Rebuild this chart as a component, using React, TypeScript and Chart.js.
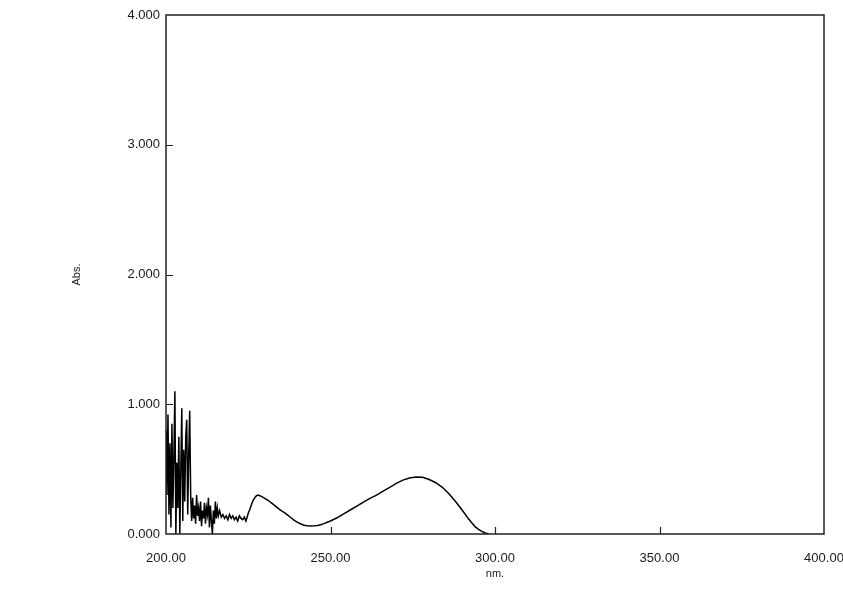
import React, { useEffect, useRef } from "react";
import { Chart, registerables } from "chart.js";

Chart.register(...registerables);

const wavelengths: number[] = [
  200.0, 200.3, 200.6, 200.9, 201.2, 201.5, 201.8, 202.1, 202.4, 202.7,
  203.0, 203.3, 203.6, 203.9, 204.2, 204.5, 204.8, 205.1, 205.4, 205.7,
  206.0, 206.3, 206.6, 206.9, 207.2, 207.5, 207.8,
  208.1, 208.4, 208.7, 209.0, 209.3, 209.6, 209.9, 210.2, 210.5, 210.8,
  211.1, 211.4, 211.7, 212.0, 212.3, 212.6, 212.9, 213.2, 213.5, 213.8,
  214.1, 214.4, 214.7, 215.0, 215.3, 215.6, 215.9, 216.3, 216.8, 217.3,
  217.8, 218.3, 218.8, 219.3, 219.8, 220.3, 220.8, 221.3, 221.8, 222.3,
  222.8, 223.3, 223.8, 224.3,
  225.0, 225.5, 226.0, 226.5, 227.0, 227.5, 228.0, 228.5, 229.0, 230.0,
  231.0, 232.0, 233.0, 234.0, 235.0, 236.0, 237.0, 238.0, 239.0, 240.0,
  241.0, 242.0, 243.0, 244.0, 245.0, 246.0, 247.0, 248.0, 249.0, 250.0,
  252.0, 254.0, 256.0, 258.0, 260.0, 262.0, 264.0, 266.0, 268.0, 270.0,
  272.0, 274.0, 276.0, 278.0, 280.0, 282.0, 284.0, 286.0, 288.0, 290.0,
  292.0, 294.0, 295.0, 296.0, 297.0, 298.0,
];

const absorbance: number[] = [
  0.80, 0.30, 0.92, 0.15, 0.70, 0.05, 0.85, 0.20, 0.60, 1.10,
  0.00, 0.55, 0.20, 0.75, 0.00, 0.50, 0.97, 0.10, 0.65, 0.25,
  0.75, 0.88, 0.15, 0.60, 0.95, 0.30, 0.10,
  0.28, 0.12, 0.22, 0.08, 0.30, 0.14, 0.20, 0.10, 0.25, 0.06,
  0.18, 0.12, 0.24, 0.08, 0.20, 0.15, 0.28, 0.05, 0.22, 0.10,
  0.00, 0.18, 0.08, 0.25, 0.12, 0.20, 0.14, 0.18, 0.13, 0.15,
  0.12, 0.14, 0.11, 0.15, 0.12, 0.14, 0.11, 0.13, 0.10, 0.14,
  0.12, 0.11, 0.13, 0.10,
  0.16, 0.19, 0.23, 0.26, 0.28, 0.295, 0.30, 0.295, 0.29, 0.275,
  0.26, 0.24, 0.22, 0.20, 0.18, 0.165, 0.145, 0.125, 0.105, 0.09,
  0.077, 0.068, 0.064, 0.062, 0.063, 0.066, 0.072, 0.08, 0.09, 0.10,
  0.125, 0.155, 0.185, 0.215, 0.245, 0.275, 0.30, 0.33, 0.36, 0.39,
  0.415, 0.432, 0.44, 0.437, 0.42, 0.395, 0.36, 0.31, 0.25, 0.185,
  0.115, 0.055, 0.035, 0.02, 0.008, 0.0,
];

const xTickValues: number[] = [200, 250, 300, 350, 400];
const yTickValues: number[] = [0, 1, 2, 3, 4];
const xTitle = "nm.";
const yTitle = "Abs.";

const FONT = "'Liberation Sans', Arial, sans-serif";
const TEXT_COLOR = "#1a1a1a";

const framePlugin = {
  id: "framePlugin",
  afterDatasetsDraw(chart: any) {
    const { ctx, chartArea } = chart;
    const { left, right, top, bottom } = chartArea;
    ctx.save();
    ctx.strokeStyle = "#222";
    ctx.lineWidth = 1.5;
    ctx.strokeRect(left, top, right - left, bottom - top);
    ctx.lineWidth = 1.2;
    const xs = chart.scales.x;
    const ys = chart.scales.y;
    ctx.beginPath();
    xTickValues.forEach((v) => {
      if (v === xs.min || v === xs.max) return;
      const px = Math.round(xs.getPixelForValue(v)) + 0.5;
      ctx.moveTo(px, bottom);
      ctx.lineTo(px, bottom - 7);
    });
    yTickValues.forEach((v) => {
      if (v === ys.min || v === ys.max) return;
      const py = Math.round(ys.getPixelForValue(v)) + 0.5;
      ctx.moveTo(left, py);
      ctx.lineTo(left + 7, py);
    });
    ctx.stroke();
    // axis titles
    ctx.fillStyle = TEXT_COLOR;
    ctx.font = `11px ${FONT}`;
    ctx.textAlign = "center";
    ctx.textBaseline = "middle";
    ctx.fillText(xTitle, (left + right) / 2, bottom + 40);
    ctx.translate(left - 89, (top + bottom) / 2);
    ctx.rotate(-Math.PI / 2);
    ctx.fillText(yTitle, 0, 0);
    ctx.restore();
  },
};

export default function App() {
  const canvasRef = useRef<HTMLCanvasElement | null>(null);

  useEffect(() => {
    const canvas = canvasRef.current;
    if (!canvas) return;
    const points = wavelengths.map((w, i) => ({ x: w, y: absorbance[i] }));
    const chart = new Chart(canvas, {
      type: "line",
      data: {
        datasets: [
          {
            data: points,
            borderColor: "#000",
            borderWidth: 1.5,
            pointRadius: 0,
            tension: 0,
            fill: false,
          },
        ],
      },
      options: {
        animation: false,
        responsive: false,
        maintainAspectRatio: false,
        events: [],
        layout: { padding: { left: 0, right: 19, top: 15, bottom: 0 } },
        plugins: {
          legend: { display: false },
          tooltip: { enabled: false },
          title: { display: false },
        },
        scales: {
          x: {
            type: "linear",
            min: 200,
            max: 400,
            afterBuildTicks: (scale: any) => {
              scale.ticks = xTickValues.map((v) => ({ value: v }));
            },
            afterFit: (scale: any) => {
              scale.height = 55;
              scale.paddingLeft = 0;
              scale.paddingRight = 0;
            },
            grid: { display: false, drawTicks: false },
            border: { display: false },
            ticks: {
              padding: 17,
              maxRotation: 0,
              autoSkip: false,
              color: TEXT_COLOR,
              font: { family: FONT, size: 13 },
              callback: (v: any) => Number(v).toFixed(2),
            },
          },
          y: {
            type: "linear",
            min: 0,
            max: 4,
            afterBuildTicks: (scale: any) => {
              scale.ticks = yTickValues.map((v) => ({ value: v }));
            },
            afterFit: (scale: any) => {
              scale.width = 166;
              scale.paddingTop = 0;
              scale.paddingBottom = 0;
            },
            grid: { display: false, drawTicks: false },
            border: { display: false },
            ticks: {
              padding: 6,
              autoSkip: false,
              color: TEXT_COLOR,
              font: { family: FONT, size: 13 },
              callback: (v: any) => Number(v).toFixed(3),
            },
          },
        },
      },
      plugins: [framePlugin],
    });
    return () => chart.destroy();
  }, []);

  return (
    <div style={{ position: "fixed", left: 0, top: 0, width: 843, height: 589, background: "#fff" }}>
      <canvas ref={canvasRef} width={843} height={589} style={{ width: 843, height: 589, display: "block" }} />
    </div>
  );
}
